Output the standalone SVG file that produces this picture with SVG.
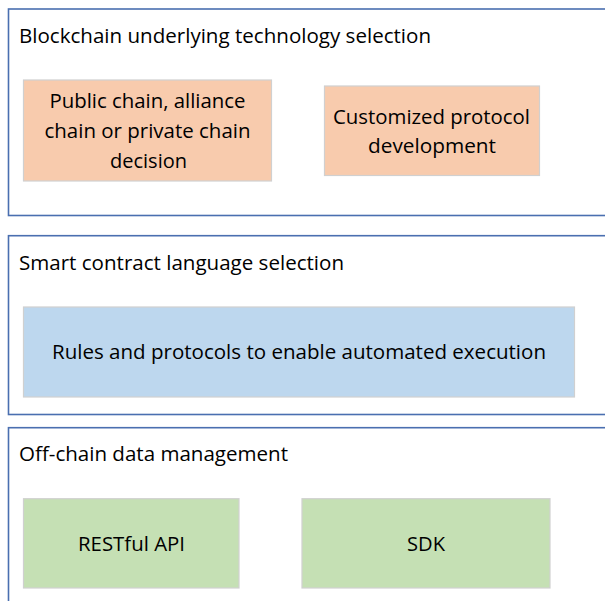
<svg xmlns="http://www.w3.org/2000/svg" width="605" height="601" viewBox="0 0 605 601">
<style>
.panel{fill:#ffffff;stroke:#4a6fb0;stroke-width:1.6}
.box{stroke:#d0d0d0;stroke-width:1.2}
.or{fill:#f8cbad}
.bl{fill:#bdd7ee}
.gr{fill:#c5e0b4}
text{font-family:"Open Sans","Liberation Sans",sans-serif;font-size:20px;fill:#000}
.c{text-anchor:middle}
</style>
<rect width="605" height="601" fill="#ffffff"/>
<g id="panel-blockchain">
<rect class="panel" x="8.5" y="9" width="620" height="206.5"/>
<text x="19" y="43" textLength="412" lengthAdjust="spacingAndGlyphs">Blockchain underlying technology selection</text>
</g>
<g id="node-chain-decision">
<rect class="box or" x="23.5" y="80" width="248" height="101"/>
<text x="147.5" y="108" class="c" textLength="196" lengthAdjust="spacingAndGlyphs">Public chain, alliance</text>
<text x="147.5" y="138" class="c" textLength="206" lengthAdjust="spacingAndGlyphs">chain or private chain</text>
<text x="148.5" y="168" class="c" textLength="77" lengthAdjust="spacingAndGlyphs">decision</text>
</g>
<g id="node-custom-protocol">
<rect class="box or" x="324.5" y="86" width="215" height="89.5"/>
<text x="431.5" y="124" class="c" textLength="197" lengthAdjust="spacingAndGlyphs">Customized protocol</text>
<text x="432" y="153" class="c" textLength="128" lengthAdjust="spacingAndGlyphs">development</text>
</g>
<g id="panel-smart-contract">
<rect class="panel" x="8.5" y="235.7" width="620" height="178.8"/>
<text x="19" y="270" textLength="325" lengthAdjust="spacingAndGlyphs">Smart contract language selection</text>
</g>
<g id="node-rules">
<rect class="box bl" x="23.5" y="307" width="551" height="90"/>
<text x="299" y="359" class="c" textLength="494" lengthAdjust="spacingAndGlyphs">Rules and protocols to enable automated execution</text>
</g>
<g id="panel-offchain">
<rect class="panel" x="8.5" y="427.7" width="620" height="200"/>
<text x="19" y="461" textLength="269" lengthAdjust="spacingAndGlyphs">Off-chain data management</text>
</g>
<g id="node-restful">
<rect class="box gr" x="23.5" y="498.7" width="215.5" height="89.3"/>
<text x="131.5" y="551" class="c" textLength="107" lengthAdjust="spacingAndGlyphs">RESTful API</text>
</g>
<g id="node-sdk">
<rect class="box gr" x="302" y="498.7" width="248" height="89.3"/>
<text x="426" y="551" class="c" textLength="38" lengthAdjust="spacingAndGlyphs">SDK</text>
</g>
<g id="connectors"></g>
</svg>
